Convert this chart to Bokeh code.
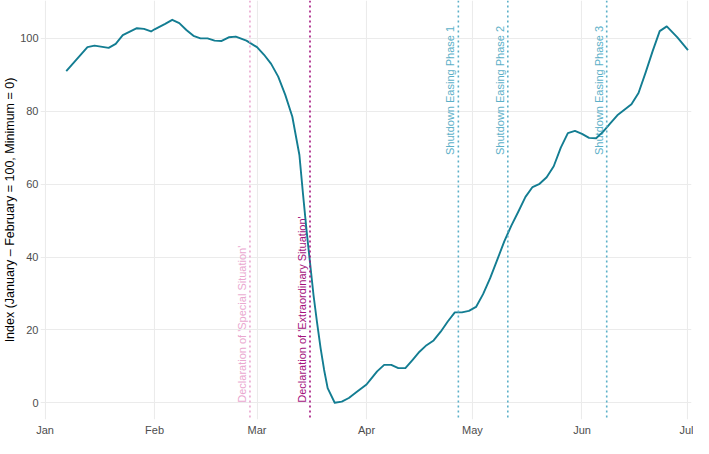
import math
import pandas as pd
from bokeh.plotting import figure
from bokeh.models import ColumnDataSource, FixedTicker, DatetimeTickFormatter, Range1d, Span
from bokeh.embed import file_html
from bokeh.resources import INLINE
from bokeh.core.properties import value

# ---- data ----
dates = [
    "2020-01-07", "2020-01-13", "2020-01-15", "2020-01-19", "2020-01-21", "2020-01-23",
    "2020-01-27", "2020-01-29", "2020-01-31", "2020-02-01", "2020-02-04", "2020-02-06",
    "2020-02-08", "2020-02-10", "2020-02-12", "2020-02-14", "2020-02-16", "2020-02-18",
    "2020-02-20", "2020-02-22", "2020-02-24", "2020-02-27", "2020-03-01", "2020-03-03",
    "2020-03-05", "2020-03-07", "2020-03-09", "2020-03-11", "2020-03-13", "2020-03-14",
    "2020-03-15", "2020-03-16", "2020-03-17", "2020-03-18", "2020-03-19", "2020-03-20",
    "2020-03-21", "2020-03-23", "2020-03-25", "2020-03-27", "2020-03-29", "2020-04-01",
    "2020-04-02", "2020-04-04", "2020-04-06", "2020-04-08", "2020-04-10", "2020-04-12",
    "2020-04-14", "2020-04-16", "2020-04-18", "2020-04-20", "2020-04-22", "2020-04-24",
    "2020-04-26", "2020-04-28", "2020-04-30", "2020-05-02", "2020-05-04", "2020-05-06",
    "2020-05-08", "2020-05-10", "2020-05-12", "2020-05-14", "2020-05-16", "2020-05-18",
    "2020-05-20", "2020-05-22", "2020-05-24", "2020-05-26", "2020-05-28", "2020-05-30",
    "2020-06-01", "2020-06-03", "2020-06-05", "2020-06-07", "2020-06-09", "2020-06-11",
    "2020-06-15", "2020-06-17", "2020-06-19", "2020-06-21", "2020-06-23", "2020-06-25",
    "2020-06-28", "2020-07-01",
]
index_values = [
    91.0, 97.6, 98.0, 97.4, 98.5, 100.9,
    102.8, 102.6, 101.9, 102.5, 104.0, 105.1,
    104.2, 102.3, 100.7, 100.0, 100.0, 99.4,
    99.3, 100.3, 100.5, 99.4, 97.6, 95.5,
    93.0, 89.5, 84.5, 78.5, 68.0, 57.5,
    47.5, 38.5, 29.5, 22.0, 15.0, 9.0,
    4.0, 0.0, 0.3, 1.3, 2.8, 5.0,
    6.2, 8.6, 10.4, 10.4, 9.5, 9.5,
    11.7, 14.0, 15.8, 17.1, 19.5, 22.3,
    24.8, 24.8, 25.2, 26.3, 29.8, 34.2,
    39.2, 44.3, 48.6, 52.5, 56.5, 59.2,
    60.1, 61.9, 64.9, 70.0, 74.0, 74.6,
    73.8, 72.7, 72.6, 74.4, 76.7, 78.9,
    81.9, 85.0, 90.6, 96.5, 102.0, 103.3,
    100.3, 96.8,
]

event_dates = ["2020-02-28", "2020-03-16", "2020-04-27", "2020-05-11", "2020-06-08"]
event_labels = [
    "Declaration of 'Special Situation'",
    "Declaration of 'Extraordinary Situation'",
    "Shutdown Easing Phase 1",
    "Shutdown Easing Phase 2",
    "Shutdown Easing Phase 3",
]
event_colors = ["#eaa8d0", "#a3117d", "#5cb0c8", "#5cb0c8", "#5cb0c8"]
event_label_y = [0, 0, 68, 68, 68]

month_ticks = ["2020-01-01", "2020-02-01", "2020-03-01", "2020-04-01",
               "2020-05-01", "2020-06-01", "2020-07-01"]
y_ticks = [0, 20, 40, 60, 80, 100]

# ---- figure ----
FONT = "Liberation Sans"
x_dt = pd.to_datetime(dates)
ev_dt = pd.to_datetime(event_dates)

p = figure(width=693, height=438, output_backend="svg", toolbar_location=None,
           x_axis_type="datetime",
           x_range=Range1d(pd.Timestamp("2019-12-30 17:00"), pd.Timestamp("2020-07-02 00:00")),
           y_range=Range1d(-4.6, 110.4),
           min_border_left=0, min_border_right=2, min_border_top=0, min_border_bottom=0)
p.outline_line_color = None
p.background_fill_color = "white"

# grid
p.xgrid.grid_line_color = "#ebebeb"
p.ygrid.grid_line_color = "#ebebeb"
p.xgrid.grid_line_width = 1.1
p.ygrid.grid_line_width = 1.1

# axes
month_ms = [pd.Timestamp(m).value // 10**6 for m in month_ticks]
p.xaxis.ticker = FixedTicker(ticks=month_ms)
p.xaxis.formatter = DatetimeTickFormatter(months="%b", days="%b", years="%b")
p.yaxis.ticker = FixedTicker(ticks=y_ticks)
for ax in (p.xaxis[0], p.yaxis[0]):
    ax.axis_line_color = None
    ax.major_tick_line_color = None
    ax.minor_tick_line_color = None
    ax.major_tick_out = 0
    ax.major_tick_in = 0
    ax.minor_tick_out = 0
    ax.minor_tick_in = 0
    ax.major_label_text_font = FONT
    ax.major_label_text_font_size = "11px"
    ax.major_label_text_color = "#4d4d4d"
    ax.major_label_standoff = 2
p.xaxis.major_label_standoff = 4
p.yaxis.axis_label = "Index (January \u2013 February = 100, Minimum = 0)"
p.yaxis.axis_label_text_font = FONT
p.yaxis.axis_label_text_font_size = "12.5px"
p.yaxis.axis_label_text_font_style = "normal"
p.yaxis.axis_label_text_color = "black"
p.yaxis.axis_label_standoff = 0

# event lines
for d, c in zip(ev_dt, event_colors):
    p.add_layout(Span(location=d.value // 10**6, dimension="height", line_color=c,
                      line_width=1.6, line_dash="2 3"))

# event labels
ev_src = ColumnDataSource(dict(x=ev_dt, y=event_label_y, text=event_labels, color=event_colors))
p.text(x="x", y="y", text="text", source=ev_src, angle=math.pi / 2,
       text_color="color", text_font=value(FONT), text_font_size="11px",
       text_align="left", text_baseline="bottom", x_offset=-2)

# main line
src = ColumnDataSource(dict(x=x_dt, y=index_values))
p.line(x="x", y="y", source=src, line_color="#137d92", line_width=1.9, line_join="round")

open("out.html", "w").write(file_html(p, INLINE))
